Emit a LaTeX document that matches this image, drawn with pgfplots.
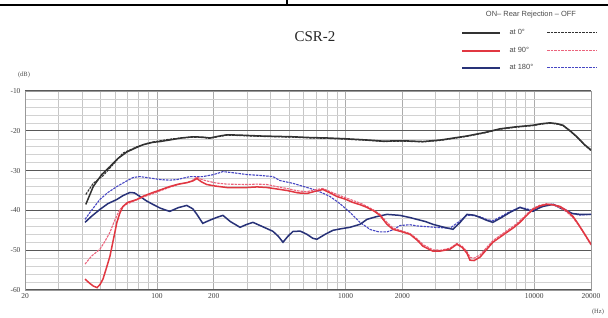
\documentclass[border=0pt]{standalone}
\usepackage{pgfplots}
\pgfplotsset{compat=1.18}
\usepackage{fontspec}
\setmainfont{Liberation Serif}
\newfontfamily\sansf{Liberation Sans}
\definecolor{cblack}{RGB}{50,50,50}
\definecolor{cred}{RGB}{225,55,65}
\definecolor{credd}{RGB}{235,100,125}
\definecolor{cblue}{RGB}{40,50,120}
\definecolor{cblued}{RGB}{70,70,195}
\begin{document}
\begin{tikzpicture}
\useasboundingbox (0bp,0bp) rectangle (608bp,318bp);
\fill[white] (0bp,0bp) rectangle (608bp,318bp);
\draw[line width=2.2bp] (0bp,313bp) -- (608bp,313bp);
\draw[line width=1.2bp] (287bp,318bp) -- (287bp,313bp);
\begin{axis}[
  at={(25bp,28bp)}, anchor=south west,
  scale only axis, width=566bp, height=199bp,
  xmode=log, log basis x=10,
  xmin=20, xmax=20000, ymin=-60, ymax=-10,
  axis line style={draw=gray!80, line width=0.6bp},
  tick style={draw=none},
  grid=both,
  major x grid style={gray!65, line width=0.6bp},
  minor x grid style={gray!45, line width=0.45bp},
  major y grid style={black!65, line width=1.1bp},
  minor y grid style={gray!35, line width=0.45bp},
  ytick={-60,-50,-40,-30,-20,-10},
  yticklabels={-60,-50,-40,-30,-20,-10},
  minor y tick num=4,
  xtick={20,100,200,1000,2000,10000,20000},
  xticklabels={20,100,200,1000,2000,10000,20000},
  minor xtick={30,40,50,60,70,80,90,300,400,500,600,700,800,900,3000,4000,5000,6000,7000,8000,9000},
  ticklabel style={font=\fontsize{7.5}{8}\selectfont, text=black!75},
  yticklabel style={xshift=-1bp},
  clip=true,
]
% blue dashed (180 OFF)
\addplot[cblued, line width=1.1bp, dash pattern=on 2.5bp off 1bp] coordinates {
(41.6,-42.25)(45,-40)(49.9,-37.25)(55,-35.5)(61.4,-34)(68,-32.8)(74.7,-31.75)(81,-31.5)(88.6,-31.75)(104,-32.25)(117,-32.4)(128,-32.25)(150,-31.5)(175.5,-31.5)(200,-31)(224,-30.25)(260,-30.6)(300,-31)(350,-31.2)(412,-31.5)(449,-32.5)(526,-33.2)(600,-34)(705,-35)(827,-36.5)(934,-38.3)(1055,-40.5)(1193,-43)(1350,-44.8)(1500,-45.4)(1658,-45.4)(1800,-44.8)(1943,-43.8)(2195,-43.6)(2390,-43.9)(2906,-44.2)(3577,-44.5)(4000,-42.8)(4399,-41.2)(4800,-41.3)(5158,-41.6)(5600,-42.3)(6040,-42.6)(6700,-41.5)(7439,-40.3)(8405,-39.2)(9100,-39.6)(9842,-40)(10500,-39.2)(11122,-38.7)(12566,-38.4)(13500,-39)(14905,-40)(16000,-40.8)(17480,-41.2)(20000,-41)};
% blue solid (180 ON)
\addplot[cblue, line width=1.5bp] coordinates {
(41.6,-43)(45,-41.5)(49.9,-39.75)(55,-38.3)(61.4,-37.25)(66,-36.3)(72,-35.5)(76,-35.6)(81.4,-36.5)(88,-37.6)(95.3,-38.5)(105,-39.5)(117,-40.25)(130,-39.3)(144,-38.75)(155,-39.6)(163,-41)(175,-43.25)(190,-42.5)(208,-41.75)(224,-41.25)(245,-42.8)(276,-44.25)(300,-43.5)(323,-43)(360,-44)(412,-45.25)(440,-46.5)(466,-48)(495,-46.5)(526,-45.3)(575,-45.2)(624,-46)(670,-47)(705,-47.25)(780,-46)(858,-45)(950,-44.6)(1055,-44.25)(1193,-43.5)(1299,-42.25)(1450,-41.6)(1658,-41)(1943,-41.25)(2195,-41.8)(2390,-42.25)(2650,-42.8)(2906,-43.5)(3300,-44.2)(3709,-44.75)(4050,-43)(4399,-41)(4800,-41.2)(5158,-41.75)(5600,-42.5)(6040,-43)(6700,-41.8)(7439,-40.5)(8405,-39.25)(9100,-39.8)(9842,-40.25)(10500,-39.5)(11122,-39)(12566,-38.5)(13500,-39.2)(14905,-40.25)(16000,-40.8)(17480,-41)(20000,-41)};
% red dashed (90 OFF)
\addplot[credd, line width=1.1bp, dash pattern=on 2.5bp off 1bp] coordinates {
(41.6,-53.5)(45,-51.5)(49.9,-49.75)(53,-47.8)(56.4,-45.5)(60,-42.3)(63.7,-39.75)(68,-38.6)(74.7,-37.75)(85,-36.6)(95.3,-35.8)(105,-35)(117,-34.2)(130,-33.5)(145,-33)(155,-32.4)(163,-31.6)(172,-32.2)(184,-32.6)(205,-33.1)(235,-33.4)(300,-33.5)(340,-33.4)(383,-33.5)(430,-34)(489,-34.5)(560,-35.1)(624,-35.3)(690,-34.8)(759,-34.5)(820,-35.2)(900,-36)(1000,-36.8)(1094,-37.5)(1200,-38.2)(1299,-39)(1420,-40)(1522,-41)(1658,-43)(1783,-44.4)(2000,-45.2)(2195,-45.8)(2400,-47.2)(2572,-48.6)(2906,-49.9)(3200,-50)(3577,-49.5)(3894,-48.3)(4150,-49)(4399,-50.3)(4566,-51.8)(4800,-52)(5158,-51.2)(5600,-49.3)(6040,-47.6)(6600,-46.3)(7166,-45.1)(7800,-43.9)(8405,-42.6)(9100,-41)(9842,-39.5)(10700,-38.7)(11679,-38.3)(12600,-38.6)(13694,-39.3)(14800,-40.3)(16040,-41.8)(17000,-43.4)(18121,-45.4)(19000,-47)(20000,-48.7)};
% red solid (90 ON)
\addplot[cred, line width=1.5bp] coordinates {
(41.6,-57.25)(44,-58.3)(46,-59)(48.2,-59.4)(50,-58.6)(51.8,-57.25)(54,-54.5)(56.4,-51.5)(59,-47)(61.4,-43)(63.5,-40.8)(66.1,-39)(70,-38)(78.4,-37.25)(86,-36.3)(95.3,-35.5)(105,-34.8)(117,-34)(130,-33.4)(145,-33)(155,-32.6)(163,-32)(172,-32.8)(184,-33.5)(205,-33.9)(235,-34.25)(300,-34.25)(340,-34.1)(383,-34.25)(430,-34.6)(489,-35)(560,-35.6)(624,-35.75)(690,-35.2)(759,-34.75)(820,-35.5)(900,-36.5)(1000,-37.2)(1094,-38)(1200,-38.6)(1299,-39.25)(1420,-40.2)(1522,-41.25)(1658,-43.5)(1783,-44.75)(2000,-45.4)(2195,-46)(2400,-47.5)(2572,-49)(2906,-50.25)(3200,-50.2)(3577,-49.75)(3894,-48.5)(4150,-49.3)(4399,-50.75)(4566,-52.5)(4800,-52.6)(5158,-51.75)(5600,-49.8)(6040,-48)(6600,-46.7)(7166,-45.5)(7800,-44.3)(8405,-43)(9100,-41.3)(9842,-39.75)(10700,-38.9)(11679,-38.5)(12600,-38.6)(13694,-39)(14800,-40)(16040,-41.5)(17000,-43.2)(18121,-45.25)(19000,-46.8)(20000,-48.5)};
% black dashed (0 OFF)
\addplot[cblack, line width=1.1bp, dash pattern=on 2.5bp off 1bp] coordinates {
(42,-36)(46,-33.2)(51.8,-31.3)(58.5,-28.5)(66.1,-25.6)(72,-24.8)(78.4,-24)(88,-23.2)(95.3,-22.8)(117,-22.1)(135,-21.8)(155,-21.6)(175,-21.7)(191,-21.9)(210,-21.5)(235,-21.1)(280,-21.2)(352,-21.4)(430,-21.5)(526,-21.6)(650,-21.8)(797,-21.9)(1000,-22.1)(1193,-22.3)(1400,-22.5)(1578,-22.7)(2000,-22.6)(2572,-22.8)(3200,-22.4)(4399,-21.4)(5500,-20.5)(6584,-19.6)(8000,-19.1)(9842,-18.7)(11000,-18.3)(12121,-18.1)(13200,-18.3)(14197,-18.7)(15500,-20.1)(16842,-21.6)(18500,-23.6)(20000,-25)};
% black solid (0 ON)
\addplot[cblack, line width=1.5bp] coordinates {
(42,-38.5)(46,-34)(51,-31)(56.4,-29)(62,-27)(69.4,-25.3)(78,-24.2)(84.4,-23.5)(95,-22.9)(104,-22.7)(117,-22.3)(135,-21.8)(155,-21.5)(175,-21.6)(191,-21.8)(210,-21.4)(235,-21)(280,-21.1)(352,-21.3)(430,-21.4)(526,-21.5)(650,-21.7)(797,-21.8)(1000,-22)(1193,-22.2)(1400,-22.4)(1578,-22.6)(2000,-22.5)(2572,-22.7)(3200,-22.3)(4399,-21.3)(5500,-20.4)(6584,-19.5)(8000,-19)(9842,-18.6)(11000,-18.2)(12121,-18)(13200,-18.2)(14197,-18.6)(15500,-20)(16842,-21.5)(18500,-23.5)(20000,-24.8)};
\end{axis}
% title and unit labels
\node[font=\fontsize{15}{16}\selectfont, text=black!85] at (315bp,281bp) {CSR-2};
\node[font=\fontsize{6.5}{7}\selectfont, text=black!70] at (24bp,243bp) {(dB)};
\node[font=\fontsize{6.5}{7}\selectfont, text=black!70] at (598bp,6bp) {(Hz)};
% legend
\node[font=\sansf\fontsize{7.5}{8}\selectfont, text=black!70] at (531bp,303bp) {ON– Rear Rejection – OFF};
\draw[cblack, line width=1.4bp] (462bp,285bp) -- (500bp,285bp);
\draw[cblack, line width=1bp, dash pattern=on 2.5bp off 1bp] (547bp,285bp) -- (597bp,285bp);
\node[font=\sansf\fontsize{7.5}{8}\selectfont, text=black!70, anchor=west] at (506bp,286bp) {at 0°};
\draw[cred, line width=1.4bp] (462bp,267bp) -- (500bp,267bp);
\draw[credd, line width=1bp, dash pattern=on 2.5bp off 1bp] (547bp,267bp) -- (597bp,267bp);
\node[font=\sansf\fontsize{7.5}{8}\selectfont, text=black!70, anchor=west] at (506bp,268bp) {at 90°};
\draw[cblue, line width=1.4bp] (462bp,250bp) -- (500bp,250bp);
\draw[cblued, line width=1bp, dash pattern=on 2.5bp off 1bp] (547bp,250bp) -- (597bp,250bp);
\node[font=\sansf\fontsize{7.5}{8}\selectfont, text=black!70, anchor=west] at (506bp,251bp) {at 180°};
\end{tikzpicture}
\end{document}
